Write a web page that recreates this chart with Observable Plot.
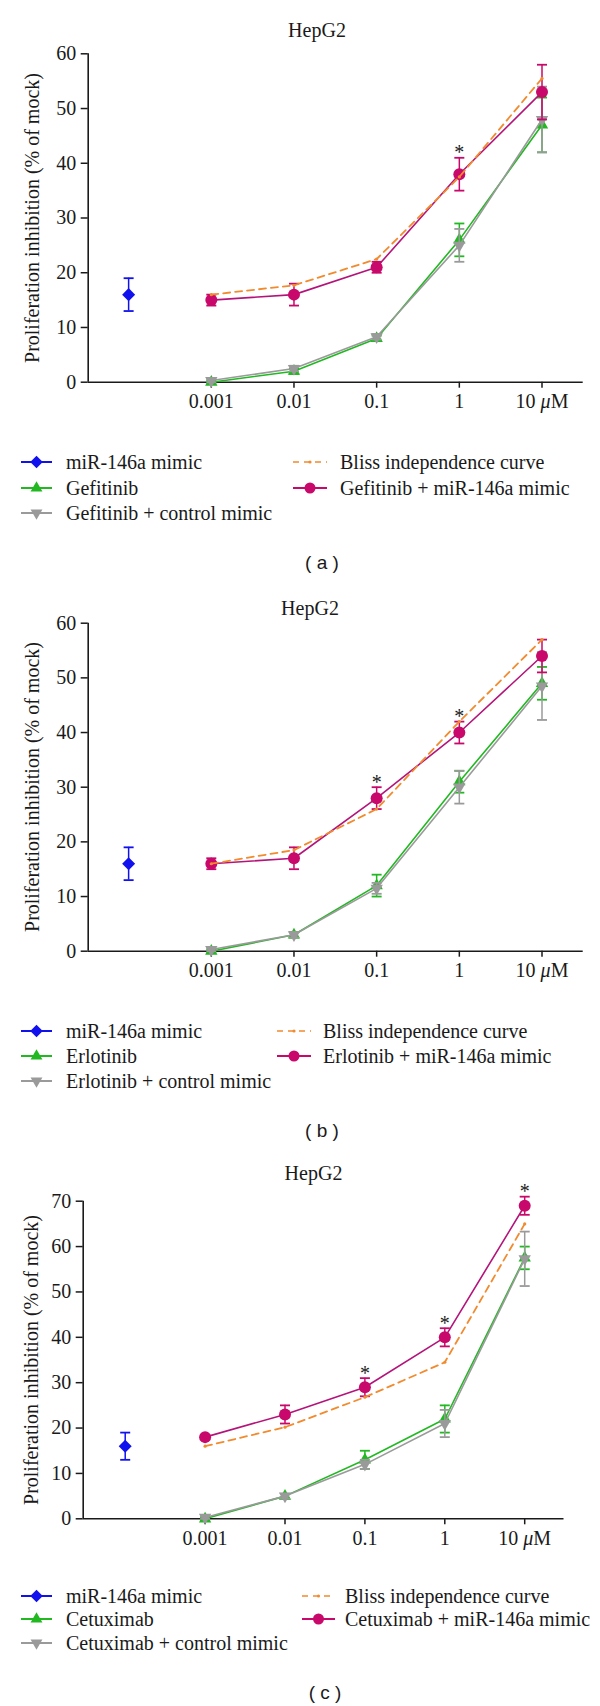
<!DOCTYPE html>
<html><head><meta charset="utf-8">
<script src="https://cdn.jsdelivr.net/npm/d3@7"></script>
<script src="https://cdn.jsdelivr.net/npm/@observablehq/plot@0.6"></script>
<style>
body{margin:0;background:#fff;}
#root{position:relative;width:600px;height:1706px;font-family:"Liberation Serif",serif;color:#1a1a1a;overflow:hidden;}
.abs{position:absolute;white-space:nowrap;line-height:1;}
</style></head><body><div id="root"></div>
<script>
// ---------- data ----------
const doseLabels = ["0.001", "0.01", "0.1", "1", "10 μM"];
const doseIndex = [1, 2, 3, 4, 5];
const mimicIndex = 0;
const yLabel = "Proliferation inhibition (% of mock)";
const cellLine = "HepG2";
const panelTags = ["( a )", "( b )", "( c )"];
const drugNames = ["Gefitinib", "Erlotinib", "Cetuximab"];
const yMaxes = [60, 60, 70];

const mimicValue = [16, 16, 16];
const mimicError = [3, 3, 3];

// (a) Gefitinib
const drugA = [0, 2, 8, 26, 47];
const drugAErr = [0.3, 0.5, 0.5, 3, 5];
const ctrlA = [0.3, 2.5, 8.3, 25, 48];
const ctrlAErr = [0.3, 0.5, 0.5, 3, 6];
const comboA = [15, 16, 21, 38, 53];
const comboAErr = [1, 2, 1, 3, 5];
const blissA = [16, 17.7, 22.5, 37.5, 55.5];
const sigA = [false, false, false, true, false];

// (b) Erlotinib
const drugB = [0, 3, 12, 31, 49];
const drugBErr = [0.3, 0.5, 2, 2, 3];
const ctrlB = [0.3, 3, 11.5, 30, 48.5];
const ctrlBErr = [0.3, 0.5, 1, 3, 6.2];
const comboB = [16, 17, 28, 40, 54];
const comboBErr = [1, 2, 2, 2, 3];
const blissB = [16, 18.5, 26, 42, 57];
const sigB = [false, false, true, true, false];

// (c) Cetuximab
const drugC = [0, 5, 13, 22, 57.5];
const drugCErr = [0.3, 0.5, 2, 3, 2.5];
const ctrlC = [0.3, 5, 12, 21, 57.3];
const ctrlCErr = [0.3, 0.5, 1, 3, 6];
const comboC = [18, 23, 29, 40, 69];
const comboCErr = [0.5, 2, 2, 2, 2];
const blissC = [16, 20.2, 26.8, 34.5, 65];
const sigC = [false, false, true, true, true];

// ---------- styles & layout ----------
const FONT = "'Liberation Serif', 'Times New Roman', serif";
const COL = {mimic: "#1111ee", drug: "#22b822", ctrl: "#9a9a9a", combo: "#c8086a", comboLine: "#b4147a", bliss: "#f28a2e"};
const layouts = [
  {svgTop: 40, svgH: 410, yTop: 53.3, yZero: 381.7, axisL: 87.7, axisR: 582.7, idx1: 210.8, idx5: 541.5,
   title: [317, 30], yLabelX: 31.5, rows: [461.7, 488.3, 512.7], col2: [293, 327, 340], tag: [322, 561.7]},
  {svgTop: 609, svgH: 410, yTop: 622.7, yZero: 950.7, axisL: 87.7, axisR: 582.7, idx1: 210.8, idx5: 541.5,
   title: [310, 607.7], yLabelX: 31.5, rows: [1030.7, 1056, 1080.7], col2: [277, 311, 323], tag: [322, 1130]},
  {svgTop: 1185, svgH: 400, yTop: 1200.7, yZero: 1518.3, axisL: 82.7, axisR: 563.5, idx1: 204.6, idx5: 524.2,
   title: [313.5, 1173.3], yLabelX: 31, rows: [1596, 1619.3, 1643.3], col2: [302, 335, 345], tag: [325, 1691.7]}
];

const panels = [
  {drug: drugA, drugErr: drugAErr, ctrl: ctrlA, ctrlErr: ctrlAErr, combo: comboA, comboErr: comboAErr, bliss: blissA, sig: sigA},
  {drug: drugB, drugErr: drugBErr, ctrl: ctrlB, ctrlErr: ctrlBErr, combo: comboB, comboErr: comboBErr, bliss: blissB, sig: sigB},
  {drug: drugC, drugErr: drugCErr, ctrl: ctrlC, ctrlErr: ctrlCErr, combo: comboC, comboErr: comboCErr, bliss: blissC, sig: sigC}
];

const capSymbol = {draw(ctx) { ctx.moveTo(-5, 0); ctx.lineTo(5, 0); }};
const root = document.getElementById("root");

function addText(txt, x, y, opts = {}) {
  const d = document.createElement("div");
  d.className = "abs";
  d.textContent = txt;
  d.style.left = x + "px";
  d.style.top = y + "px";
  d.style.fontSize = (opts.size || 20) + "px";
  d.style.fontFamily = opts.family || FONT;
  d.style.transform = opts.rotate ? "translate(-50%,-50%) rotate(-90deg)"
    : opts.center ? "translate(-50%,-50%)" : "translate(0,-52%)";
  root.appendChild(d);
}

function legendItem(x1, x2, xt, yc, color, sym, rot, dashed, label, r) {
  const w = x2 - x1, h = 20;
  const svg = d3.create("svg").attr("width", w + 4).attr("height", h)
    .style("position", "absolute").style("left", (x1 - 2) + "px").style("top", (yc - h / 2) + "px");
  svg.append("line").attr("x1", 2).attr("x2", w + 2).attr("y1", h / 2).attr("y2", h / 2)
    .attr("stroke", color).attr("stroke-width", dashed ? 1.6 : 2)
    .attr("stroke-dasharray", dashed ? "6,5" : null);
  svg.append("path").attr("d", d3.symbol(sym, Math.PI * r * r)())
    .attr("fill", color)
    .attr("transform", `translate(${w / 2 + 2},${h / 2}) rotate(${rot})`);
  root.appendChild(svg.node());
  addText(label, xt, yc);
}

panels.forEach((p, k) => {
  const L = layouts[k];
  const yMax = yMaxes[k];
  const sp = (L.idx5 - L.idx1) / 4;
  const xDomain = [1 - (L.idx1 - L.axisL) / sp, 5 + (L.axisR - L.idx5) / sp];
  const mk = (vals, errs) => vals.map((v, i) => ({x: doseIndex[i], y: v, lo: v - errs[i], hi: v + errs[i]}));
  const drug = mk(p.drug, p.drugErr), ctrl = mk(p.ctrl, p.ctrlErr), combo = mk(p.combo, p.comboErr);
  const bliss = p.bliss.map((v, i) => ({x: doseIndex[i], y: v}));
  const mimic = [{x: mimicIndex, y: mimicValue[k], lo: mimicValue[k] - mimicError[k], hi: mimicValue[k] + mimicError[k]}];
  const sig = combo.filter((d, i) => p.sig[i]);

  const errMarks = (data, color) => [
    Plot.ruleX(data, {x: "x", y1: "lo", y2: "hi", stroke: color, strokeWidth: 1.5}),
    Plot.dot(data, {x: "x", y: "lo", symbol: capSymbol, r: 5, fill: "none", stroke: color, strokeWidth: 1.8}),
    Plot.dot(data, {x: "x", y: "hi", symbol: capSymbol, r: 5, fill: "none", stroke: color, strokeWidth: 1.8})
  ];

  const plot = Plot.plot({
    width: 600, height: L.svgH,
    marginLeft: L.axisL, marginRight: 600 - L.axisR,
    marginTop: L.yTop - L.svgTop, marginBottom: L.svgTop + L.svgH - L.yZero,
    x: {domain: xDomain},
    y: {domain: [0, yMax]},
    style: {fontFamily: FONT, fontSize: "20px", background: "transparent", color: "#1a1a1a", overflow: "visible"},
    marks: [
      Plot.axisX({ticks: doseIndex, tickFormat: i => doseLabels[i - 1], tickSize: 6, tickPadding: 6, label: null, strokeWidth: 1.5, fontFamily: FONT, fontSize: 20}),
      Plot.axisY({ticks: d3.range(0, yMax + 1, 10), tickSize: 7, tickPadding: 5, label: null, strokeWidth: 1.5, fontFamily: FONT, fontSize: 20}),
      Plot.ruleY([0], {strokeWidth: 1.6}),
      Plot.ruleX([xDomain[0]], {strokeWidth: 1.6}),
      // mimic alone
      ...errMarks(mimic, COL.mimic),
      Plot.dot(mimic, {x: "x", y: "y", symbol: "square", rotate: 45, r: 5.2, fill: COL.mimic}),
      // drug alone
      Plot.line(drug, {x: "x", y: "y", stroke: COL.drug, strokeWidth: 1.6}),
      ...errMarks(drug, COL.drug),
      Plot.dot(drug, {x: "x", y: "y", symbol: "triangle", r: 4.6, fill: COL.drug}),
      // drug + control mimic
      Plot.line(ctrl, {x: "x", y: "y", stroke: COL.ctrl, strokeWidth: 1.6}),
      ...errMarks(ctrl, COL.ctrl),
      Plot.dot(ctrl, {x: "x", y: "y", symbol: "triangle", rotate: 180, r: 4.6, fill: COL.ctrl}),
      // drug + miR-146a mimic
      Plot.line(combo, {x: "x", y: "y", stroke: COL.comboLine, strokeWidth: 1.6}),
      ...errMarks(combo, COL.combo),
      Plot.dot(combo, {x: "x", y: "y", r: 6, fill: COL.combo}),
      // Bliss independence
      Plot.line(bliss, {x: "x", y: "y", stroke: COL.bliss, strokeWidth: 1.8, strokeDasharray: "7,5"}),
      Plot.dot(bliss, {x: "x", y: "y", r: 1.6, fill: COL.bliss}),
      // significance
      Plot.text(sig, {x: "x", y: "hi", text: () => "*", dy: -5, fontSize: 20, fontFamily: FONT})
    ]
  });
  plot.setAttribute("font-family", FONT);
  plot.style.position = "absolute";
  plot.style.left = "0px";
  plot.style.top = L.svgTop + "px";
  d3.select(plot).selectAll("text").filter(function() { return this.textContent === "10 μM"; })
    .each(function() {
      const t = d3.select(this);
      t.text(null);
      t.append("tspan").text("10 ");
      t.append("tspan").attr("font-style", "italic").text("μ");
      t.append("tspan").text("M");
    });
  root.appendChild(plot);

  addText(cellLine, L.title[0], L.title[1], {center: true});
  addText(yLabel, L.yLabelX, (L.yTop + L.yZero) / 2, {rotate: true});
  const name = drugNames[k];
  legendItem(21, 52, 66, L.rows[0], COL.mimic, d3.symbolSquare, 45, false, "miR-146a mimic", 5);
  legendItem(21, 52, 66, L.rows[1], COL.drug, d3.symbolTriangle, 0, false, name, 4.4);
  legendItem(21, 52, 66, L.rows[2], COL.ctrl, d3.symbolTriangle, 180, false, name + " + control mimic", 4.4);
  legendItem(L.col2[0], L.col2[1], L.col2[2], L.rows[0], COL.bliss, d3.symbolCircle, 0, true, "Bliss independence curve", 1.6);
  legendItem(L.col2[0], L.col2[1], L.col2[2], L.rows[1], COL.combo, d3.symbolCircle, 0, false, name + " + miR-146a mimic", 5.5);
  addText(panelTags[k], L.tag[0], L.tag[1], {center: true, family: "'Liberation Sans', Arial, sans-serif", size: 19});
});
</script></body></html>
